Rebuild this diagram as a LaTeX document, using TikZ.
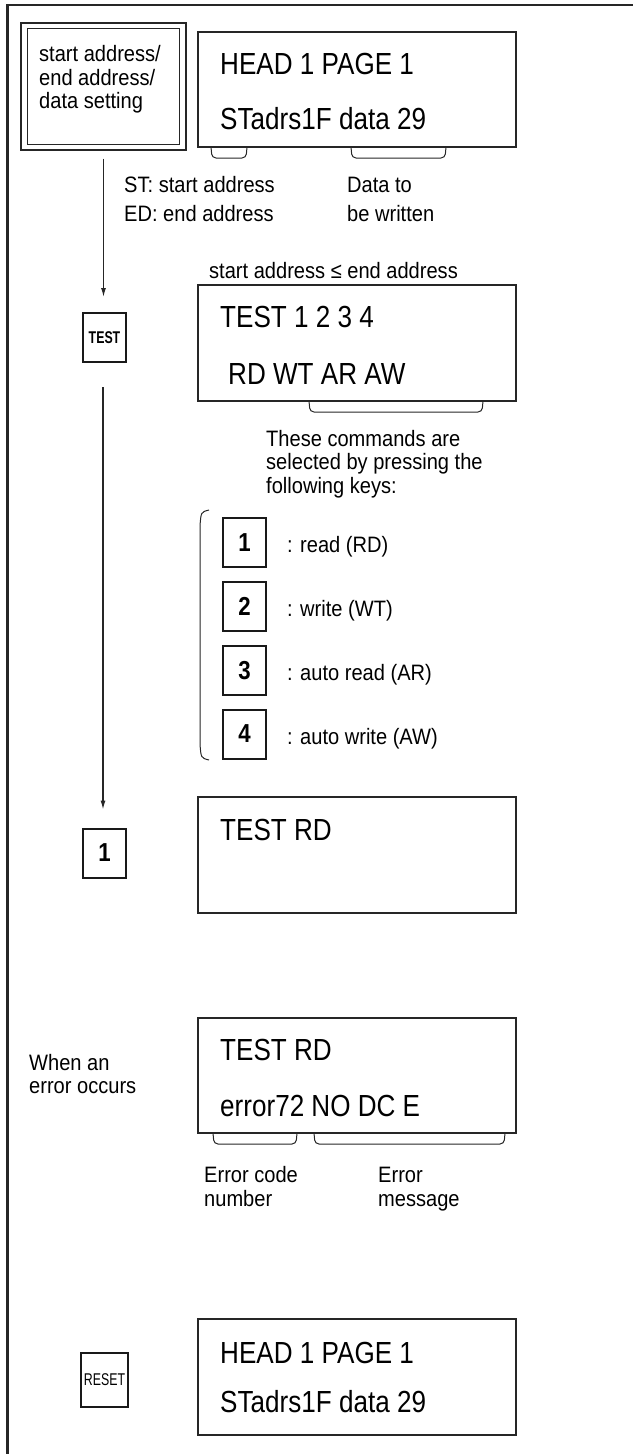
\documentclass[tikz,border=0pt]{standalone}
\usepackage{fontspec}
\setmainfont{Liberation Sans}[FakeStretch=0.9]
\newfontfamily\lcdfont{Liberation Sans}[FakeStretch=0.855]
\usetikzlibrary{arrows.meta}
\begin{document}
\begin{tikzpicture}[x=1pt,y=-1pt,
  lcdbox/.style={draw=black!85, line width=1.2pt, minimum width=318pt, minimum height=116pt, inner sep=0},
  keybox/.style={draw=black!90, line width=2pt, minimum width=43pt, minimum height=49pt, inner sep=0, font=\lcdfont\bfseries\fontsize{26}{26}\selectfont},
  lcdtxt/.style={anchor=base west, inner sep=0, font=\lcdfont\fontsize{30.5}{30.5}\selectfont},
  lbl/.style={anchor=base west, inner sep=0, font=\fontsize{22.3}{22.3}\selectfont},
  brk/.style={draw=black!85, line width=1pt, rounded corners=4pt},
  flow/.style={draw=black!85, line width=1.2pt, -{Latex[length=9pt,width=5pt]}}]
\useasboundingbox (0,0) rectangle (632,1454);
% outer frame
\draw[line width=2.4pt, black!85] (7.5,1460) -- (7.5,5) -- (640,5);

% setting box (double frame)
\node[draw=black!85, line width=1.2pt, minimum width=165pt, minimum height=127pt, inner sep=0] (setbox) at (103.5,86.5) {};
\draw[black!85, line width=1.4pt] ([shift={(7,-6)}]setbox.south west) rectangle ([shift={(-7,6)}]setbox.north east);
\node[lbl] (s1) at (39,61.5) {start address/};
\node[lbl] (s2) at (39,85) {end address/};
\node[lbl] (s3) at (39,108.5) {data setting};

% LCD 1
\node[lcdbox, minimum height=115pt] (lcd1) at (357,89.5) {};
\node[lcdtxt] (l1a) at (220,74) {HEAD 1 PAGE 1};
\node[lcdtxt] (l1b) at (220,129) {STadrs1F data 29};
\draw[brk] (211,147) -- (212,158) -- (246,158) -- (247,147);
\draw[brk] (351,147) -- (352,158) -- (445,158) -- (446,147);
\node[lbl] (st) at (124,192) {ST: start address};
\node[lbl] (ed) at (124,221) {ED: end address};
\node[lbl] (dt) at (347,192) {Data to};
\node[lbl] (bw) at (347,221) {be written};
\node[lbl] (cond) at (209,278) {start address ≤ end address};

% LCD 2
\node[lcdbox] (lcd2) at (357,343) {};
\node[lcdtxt] (l2a) at (220,327) {TEST 1 2 3 4};
\node[lcdtxt] (l2b) at (228,384) {RD WT AR AW};
\draw[brk] (309,401) -- (310,412) -- (482,412) -- (483,401);
\node[keybox] (testkey) at (104.5,337.5) {\scalebox{0.85}[1]{\fontsize{17}{17}\selectfont TEST}};

\node[lbl] (c1) at (266,446) {These commands are};
\node[lbl] (c2) at (266,469) {selected by pressing the};
\node[lbl] (c3) at (266,493) {following keys:};

% keys
\node[keybox] (k1) at (244.5,542.5) {1};
\node[keybox] (k2) at (244.5,606.5) {2};
\node[keybox] (k3) at (244.5,670.5) {3};
\node[keybox] (k4) at (244.5,734) {4};
\node[lbl] (r1) at ([xshift=20pt,yshift=-10pt]k1.east) {: read (RD)};
\node[lbl] (r2) at ([xshift=20pt,yshift=-10pt]k2.east) {: write (WT)};
\node[lbl] (r3) at ([xshift=20pt,yshift=-10pt]k3.east) {: auto read (AR)};
\node[lbl] (r4) at ([xshift=20pt,yshift=-10pt]k4.east) {: auto write (AW)};
\draw[black!85, line width=1pt] (209,510) .. controls (201,512) .. (200,526) -- (200,744) .. controls (201,758) .. (209,760);

% LCD 3
\node[lcdbox] (lcd3) at (357,855) {};
\node[lcdtxt] (l3a) at (220,840) {TEST RD};
\node[keybox] (key1l) at (104.5,853) {1};

% arrows
\draw[flow, shorten <=8pt, shorten >=15pt] (setbox.south) -- (setbox.south |- testkey.north);
\draw[flow, shorten <=24pt, shorten >=18pt] ([xshift=-1.5pt]testkey.south) -- ([xshift=-1.5pt]key1l.north);

% LCD 4
\node[lbl] (w1) at (29,1070) {When an};
\node[lbl] (w2) at (29,1093) {error occurs};
\node[lcdbox, minimum height=115pt] (lcd4) at (357,1075.5) {};
\node[lcdtxt] (l4a) at (220,1060) {TEST RD};
\node[lcdtxt] (l4b) at (220,1116) {error72 NO DC E};
\draw[brk] (213,1133) -- (214,1144) -- (296,1144) -- (297,1133);
\draw[brk] (314,1133) -- (315,1144) -- (504,1144) -- (505,1133);
\node[lbl] (e1) at (204,1182) {Error code};
\node[lbl] (e2) at (204,1206) {number};
\node[lbl] (e3) at (378,1182) {Error};
\node[lbl] (e4) at (378,1206) {message};

% LCD 5
\node[lcdbox] (lcd5) at (357,1377) {};
\node[lcdtxt] (l5a) at (220,1363) {HEAD 1 PAGE 1};
\node[lcdtxt] (l5b) at (220,1412) {STadrs1F data 29};
\node[keybox, line width=1.8pt, minimum width=47pt, minimum height=54pt, font=\lcdfont\fontsize{17}{17}\selectfont] (reset) at (104.5,1380) {\scalebox{0.85}[1]{RESET}};
\end{tikzpicture}
\end{document}
